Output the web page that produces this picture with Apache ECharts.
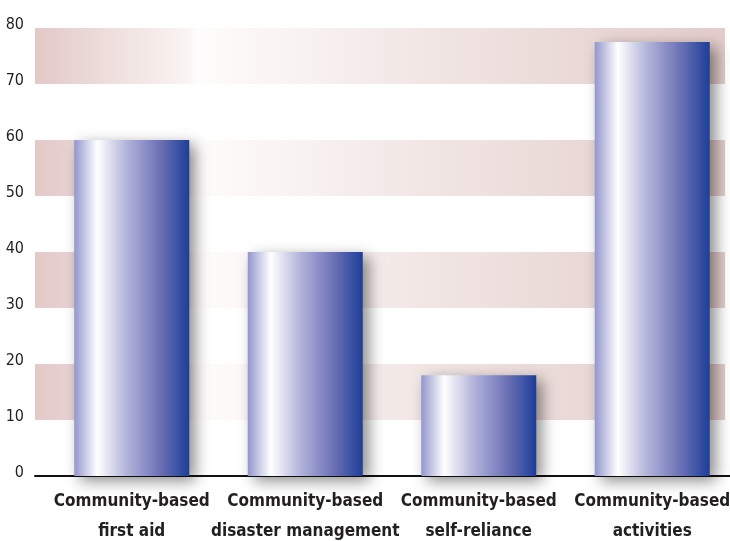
<!DOCTYPE html>
<html>
<head>
<meta charset="utf-8">
<script src="https://cdn.jsdelivr.net/npm/echarts@6/dist/echarts.min.js"></script>
<style>
html,body{margin:0;padding:0;background:#fff;}
#chart{width:730px;height:541px;}
</style>
</head>
<body>
<div id="chart"></div>
<script>
var categories = ['Community-based\nfirst aid', 'Community-based\ndisaster management', 'Community-based\nself-reliance', 'Community-based\nactivities'];
var values = [60, 40, 18, 77.5];
var yMin = 0, yMax = 80, yStep = 10;

var FONT = "'DejaVu Sans Condensed', 'Liberation Sans', sans-serif";

var bandGradient = {
  type: 'linear', x: 0, y: 0, x2: 1, y2: 0,
  colorStops: [
    {offset: 0, color: '#e2c9c6'},
    {offset: 0.22, color: '#faf4f3'},
    {offset: 0.235, color: '#fefcfc'},
    {offset: 0.6, color: '#f0e4e2'},
    {offset: 1, color: '#e3ccc9'}
  ]
};
var barGradient = {
  type: 'linear', x: 0, y: 0, x2: 1, y2: 0,
  colorStops: [
    {offset: 0, color: '#9296cb'},
    {offset: 0.1, color: '#c9cbe6'},
    {offset: 0.2, color: '#ffffff'},
    {offset: 0.45, color: '#b4b5db'},
    {offset: 0.75, color: '#6b70b5'},
    {offset: 1, color: '#1d3e98'}
  ]
};

var chart = echarts.init(document.getElementById('chart'), null, {renderer: 'canvas'});
chart.setOption({
  animation: false,
  backgroundColor: '#ffffff',
  grid: [
    {left: 35, width: 690, top: 28, height: 448, outerBoundsMode: 'none', containLabel: false},
    {left: 45, width: 694, top: 28, height: 448, outerBoundsMode: 'none', containLabel: false},
    {left: 35, width: 695, top: 28, height: 448, outerBoundsMode: 'none', containLabel: false}
  ],
  xAxis: [
    {gridIndex: 0, type: 'value', min: 0, max: 1, show: false},
    {gridIndex: 1, type: 'category', data: categories,
      axisLine: {show: false}, axisTick: {show: false},
      axisLabel: {interval: 0, margin: 11, color: '#231f20', fontFamily: FONT, fontSize: 17, fontWeight: 'bold', lineHeight: 30}
    },
    {gridIndex: 2, type: 'value', min: 0, max: 1,
      axisLine: {show: true, lineStyle: {color: '#111', width: 2}},
      axisTick: {show: false}, axisLabel: {show: false}, splitLine: {show: false}
    }
  ],
  yAxis: [
    {gridIndex: 0, type: 'value', min: yMin, max: yMax, interval: yStep,
      axisLine: {show: false}, axisTick: {show: false},
      axisLabel: {margin: 11, color: '#231f20', fontFamily: FONT, fontSize: 16, verticalAlign: 'bottom', lineHeight: 6},
      splitLine: {show: false},
      splitArea: {show: true, areaStyle: {color: ['rgba(255,255,255,0)', bandGradient]}}
    },
    {gridIndex: 1, type: 'value', min: yMin, max: yMax, interval: yStep, show: false},
    {gridIndex: 2, type: 'value', min: yMin, max: yMax, show: false}
  ],
  series: [
    {type: 'bar', xAxisIndex: 1, yAxisIndex: 1, data: values, barWidth: 115,
      itemStyle: {color: barGradient, shadowBlur: 14, shadowColor: 'rgba(0,0,0,0.45)', shadowOffsetX: 6, shadowOffsetY: 5}
    }
  ]
});
</script>
</body>
</html>
